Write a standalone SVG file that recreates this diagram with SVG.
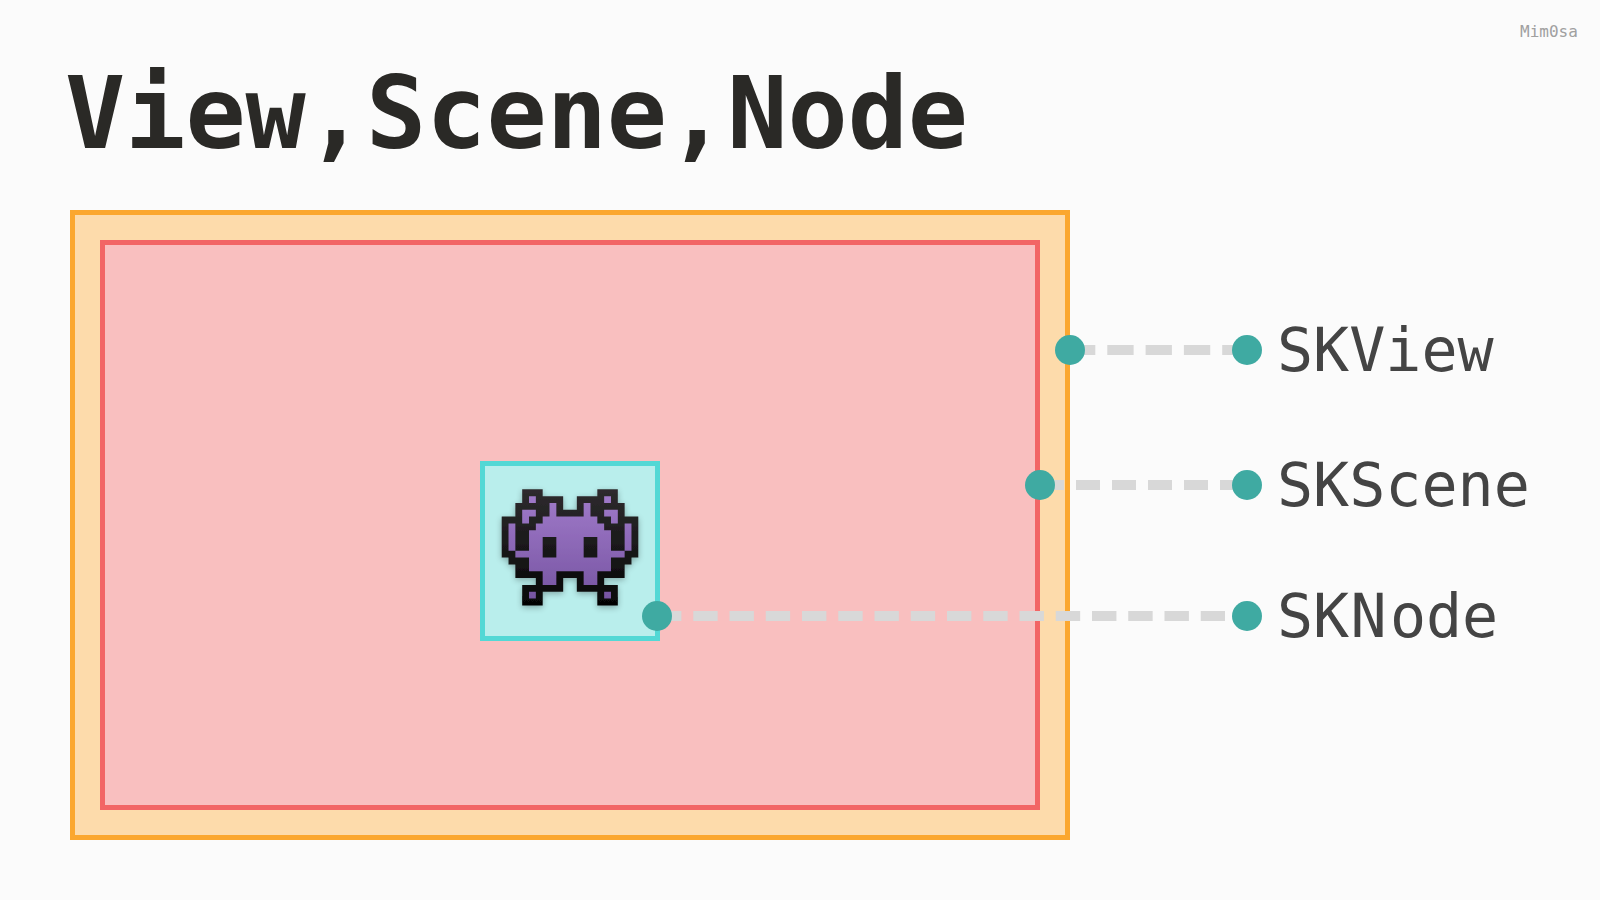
<svg xmlns="http://www.w3.org/2000/svg" width="1600" height="900" viewBox="0 0 1600 900">
<style>
.t{font-family:"DejaVu Sans Mono",monospace}
.lbl{font-size:60px;fill:#444444}
.dot{fill:#3FAAA2}
.dash{stroke:#D8D8D8;stroke-width:10;fill:none}
</style>
<defs>
<linearGradient id="pg" gradientUnits="userSpaceOnUse" x1="0" y1="0" x2="0" y2="17"><stop offset="0" stop-color="#A27CCB"/><stop offset="1" stop-color="#7452A0"/></linearGradient>
<linearGradient id="kg" gradientUnits="userSpaceOnUse" x1="0" y1="0" x2="0" y2="17"><stop offset="0" stop-color="#2E2C2E"/><stop offset="1" stop-color="#050505"/></linearGradient>
<filter id="soft" filterUnits="userSpaceOnUse" x="480" y="470" width="180" height="160"><feGaussianBlur in="SourceAlpha" stdDeviation="3"/><feOffset dy="2"/><feComponentTransfer result="s"><feFuncA type="linear" slope="0.3"/></feComponentTransfer><feGaussianBlur in="SourceGraphic" stdDeviation="0.45" result="g"/><feMerge><feMergeNode in="s"/><feMergeNode in="g"/></feMerge></filter>
</defs>
<rect width="1600" height="900" fill="#FBFBFB"/>
<text class="t" x="1520" y="37" font-size="16" fill="#A0A0A0">Mim0sa</text>
<text class="t" x="65" y="148" font-size="100" font-weight="700" fill="#2A2926">View,Scene,Node</text>
<g id="skview-box"><rect x="72.500" y="212.500" width="995" height="625" fill="#FDDBAB" stroke="#FBA72F" stroke-width="5"/></g>
<g id="skscene-box"><rect x="102.500" y="242.500" width="935" height="565" fill="#F9BFBF" stroke="#F26565" stroke-width="5"/></g>
<g id="sknode-box"><rect x="482.500" y="463.500" width="175" height="175" fill="#B9EEEC" stroke="#53D8D5" stroke-width="5"/>
<g filter="url(#soft)"><g transform="translate(501.700 489.300) scale(6.83)">
<path fill="url(#kg)" d="M3 0h3v1h-3zM14 0h3v1h-3zM3 1h6v1h-6zM11 1h6v1h-6zM2 2h7v1h-7zM11 2h7v1h-7zM2 3h16v1h-16zM0 4h20v6h-20zM1 10h18v1h-18zM2 11h16v2h-16zM5 13h4v1h-4zM11 13h4v1h-4zM3 14h6v1h-6zM11 14h6v1h-6zM3 15h3v2h-3zM14 15h3v2h-3z"/>
<path fill="url(#pg)" d="M4 1h1v1h-1zM15 1h1v1h-1zM7 2h1v1h-1zM12 2h1v1h-1zM3 3h2v1h-2zM7 3h1v1h-1zM12 3h1v1h-1zM15 3h2v1h-2zM3 4h1v1h-1zM6 4h8v1h-8zM16 4h1v1h-1zM1 5h1v4h-1zM18 5h1v4h-1zM5 5h10v1h-10zM4 6h12v1h-12zM4 7h2v2h-2zM8 7h4v2h-4zM14 7h2v2h-2zM2 9h4v1h-4zM8 9h4v1h-4zM14 9h4v1h-4zM4 10h12v2h-12zM6 12h2v2h-2zM12 12h2v2h-2zM4 15h1v1h-1zM15 15h1v1h-1z"/>
</g></g></g>
<g id="connectors">
<path class="dash" d="M1069 350H1247" stroke-dasharray="26.300 12"/>
<path class="dash" d="M1040 485H1247" stroke-dasharray="24 12"/>
<path class="dash" d="M657 616H1225" stroke-dasharray="24.400 11.850"/>
</g>
<g id="skview"><circle class="dot" cx="1070" cy="350" r="15"/><circle class="dot" cx="1247" cy="350" r="15"/><text class="t lbl" x="1277" y="371">SKView</text></g>
<g id="skscene"><circle class="dot" cx="1040" cy="485" r="15"/><circle class="dot" cx="1247" cy="485" r="15"/><text class="t lbl" x="1277" y="506">SKScene</text></g>
<g id="sknode"><circle class="dot" cx="657" cy="616" r="15"/><circle class="dot" cx="1247" cy="616" r="15"/><text class="t lbl" y="637" x="1277 1313.100 1350.500 1390 1425.900 1462">SKNode</text></g>
</svg>
